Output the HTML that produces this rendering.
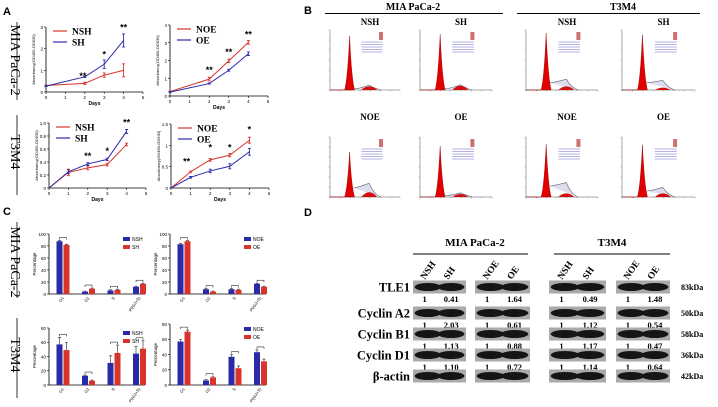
<!DOCTYPE html>
<html><head><meta charset="utf-8"><style>
body{margin:0;background:#fff}
svg{display:block}
text{font-family:"Liberation Sans",sans-serif}
.serif{font-family:"Liberation Serif",serif;font-weight:bold}
</style></head><body>
<svg id="fig" width="718" height="407" viewBox="0 0 718 407" xmlns="http://www.w3.org/2000/svg">
<g id="static">
<text x="3" y="15" font-size="11" font-weight="bold">A</text>
<text x="3" y="215" font-size="11" font-weight="bold">C</text>
<text x="304" y="14" font-size="11" font-weight="bold">B</text>
<text x="304" y="216" font-size="11" font-weight="bold">D</text>
</g>
<g id="g"></g>
</svg>
<script>
// ===== Panel A data =====
const daysA = [0,2,3,4];
const a1NSH = [0.3,0.4,0.78,1.0], a1NSHerr=[0.02,0.05,0.1,0.3];
const a1SH  = [0.27,0.7,1.28,2.38], a1SHerr=[0.02,0.03,0.2,0.3];
const a2NOE = [0.25,0.95,1.98,3.02], a2NOEerr=[0.02,0.1,0.1,0.1];
const a2OE  = [0.22,0.7,1.45,2.38], a2OEerr=[0.02,0.03,0.05,0.1];
const daysB = [0,1,2,3,4];
const a3NSH = [0,0.24,0.31,0.36,0.67], a3NSHerr=[0,0.05,0.03,0.02,0.02];
const a3SH  = [0,0.25,0.37,0.44,0.87], a3SHerr=[0,0.03,0.02,0.02,0.03];
const a4NOE = [0,0.38,0.66,0.77,1.12], a4NOEerr=[0,0.02,0.03,0.04,0.07];
const a4OE  = [0,0.25,0.4,0.51,0.85], a4OEerr=[0,0.02,0.04,0.06,0.08];
// ===== Panel C data =====
const phases = ["G1","G2","S","PI(G2+S)"];
const c1NSH=[88,4,6,12], c1SH=[82,9,7,17];
const c2NOE=[83,8,8,17], c2OE=[88,4,7,12];
const c3NSH=[57,13,31,44], c3NSHerr=[10,1,10,10], c3SH=[49,6,45,51], c3SHerr=[11,1,11,11];
const c4NOE=[57,6,37,43], c4NOEerr=[3,1,3,3], c4OE=[70,10,22,31], c4OEerr=[2,1,3,3];
// ===== Panel B data (peak heights 0-1) =====
const flowG1=[0.9,0.93,0.95,0.92,0.75,0.85,0.88,0.87];
const flowG2=[0.06,0.07,0.06,0.04,0.08,0.05,0.06,0.06];
const flowS =[0.02,0.02,0.12,0.12,0.15,0.02,0.18,0.1];
// ===== Panel D data =====
const proteins=["TLE1","Cyclin A2","Cyclin B1","Cyclin D1","β-actin"];
const kda=["83kDa","50kDa","58kDa","36kDa","42kDa"];
const ratios=[["1","0.41","1","1.64","1","0.49","1","1.48"],["1","2.03","1","0.61","1","1.12","1","0.54"],["1","1.13","1","0.88","1","1.17","1","0.47"],["1","1.10","1","0.72","1","1.14","1","0.64"]];
const lanes=["NSH","SH","NOE","OE","NSH","SH","NOE","OE"];

const NS="http://www.w3.org/2000/svg", G=document.getElementById('g');
function el(t,a,p){const e=document.createElementNS(NS,t);for(const k in a)e.setAttribute(k,a[k]);(p||G).appendChild(e);return e;}
function txt(s,a,p){const e=el('text',a,p);e.textContent=s;return e;}
const RED="#d9342b",BLUE="#2a2aa8";

function lineChart(name,c){
  const g=el('g',{});  
  const X=v=>c.x0+(c.x1-c.x0)*v/5, Y=v=>c.y0-(c.y0-c.y1)*v/c.ymax;
  const ax=el('path',{d:`M${c.x0},${c.y1}V${c.y0}H${c.x1}`,stroke:'#000',fill:'none','stroke-width':0.8},g);
   
  c.ticks.forEach(t=>{el('line',{x1:c.x0-2,x2:c.x0,y1:Y(t),y2:Y(t),stroke:'#000','stroke-width':0.6},g);
    const l=txt(String(t),{x:c.x0-3,y:Y(t)+2,'font-size':4.5,'text-anchor':'end'},g);});
  for(let d=0;d<=5;d++){el('line',{x1:X(d),x2:X(d),y1:c.y0,y2:c.y0+2,stroke:'#000','stroke-width':0.6},g);
    const l=txt(String(d),{x:X(d),y:c.y0+7,'font-size':4.5,'text-anchor':'middle'},g);}
  const xt=txt('Days',{x:(c.x0+c.x1)/2,y:c.y0+13,'font-size':5,'font-weight':'bold','text-anchor':'middle'},g);
  const yt=txt('Absorbancy(OD450-OD630)',{x:0,y:0,'font-size':4,'text-anchor':'middle',transform:`translate(${c.x0-11},${(c.y0+c.y1)/2}) rotate(-90)`},g);
  c.series.forEach(s=>{
    const p=el('polyline',{points:c.days.map((d,i)=>X(d)+','+Y(s.v[i])).join(' '),fill:'none',stroke:s.col,'stroke-width':1},g);
    
    c.days.forEach((d,i)=>{if(!s.e[i])return;const x=X(d);
      el('path',{d:`M${x},${Y(s.v[i]+s.e[i])}V${Y(s.v[i]-s.e[i])}M${x-1.5},${Y(s.v[i]+s.e[i])}h3M${x-1.5},${Y(s.v[i]-s.e[i])}h3`,stroke:s.col,'stroke-width':0.9},g);});
  });
  c.series.forEach((s,i)=>{const ly=c.y1+4+i*11;
    const l=el('line',{x1:c.x0+7,x2:c.x0+21,y1:ly,y2:ly,stroke:s.col,'stroke-width':1.2},g);
    const t=txt(s.n,{x:c.x0+26,y:ly+3.5,'font-size':9.5,class:'serif'},g);});
  c.stars.forEach(s=>{const t=txt(s[1],{x:X(s[0]),y:Y(s[2]),'font-size':9,'font-weight':'bold','text-anchor':'middle'},g);});
}
lineChart('chart-a-mia-sh',{x0:46,x1:143,y0:92,y1:27,ymax:3,ticks:[0,1,2,3],days:daysA,
  series:[{n:'NSH',col:RED,v:a1NSH,e:a1NSHerr},{n:'SH',col:BLUE,v:a1SH,e:a1SHerr}],stars:[[1.9,'**',0.6],[3,'*',1.6],[4,'**',2.85]]});
lineChart('chart-a-mia-oe',{x0:170,x1:268,y0:96,y1:25,ymax:4,ticks:[0,1,2,3,4],days:daysA,
  series:[{n:'NOE',col:RED,v:a2NOE,e:a2NOEerr},{n:'OE',col:BLUE,v:a2OE,e:a2OEerr}],stars:[[2,'**',1.3],[3,'**',2.3],[4,'**',3.3]]});
lineChart('chart-a-t3m4-sh',{x0:49,x1:146,y0:188,y1:123,ymax:1,ticks:[0.0,0.2,0.4,0.6,0.8,'1.0'],days:daysB,
  series:[{n:'NSH',col:RED,v:a3NSH,e:a3NSHerr},{n:'SH',col:BLUE,v:a3SH,e:a3SHerr}],stars:[[2,'**',0.45],[3,'*',0.52],[4,'**',0.96]]});
lineChart('chart-a-t3m4-oe',{x0:171,x1:269,y0:188,y1:124,ymax:1.5,ticks:[0,0.5,1,1.5],days:daysB,
  series:[{n:'NOE',col:RED,v:a4NOE,e:a4NOEerr},{n:'OE',col:BLUE,v:a4OE,e:a4OEerr}],stars:[[0.8,'**',0.55],[2,'*',0.88],[3,'*',0.88],[4,'*',1.3]]});

function barChart(name,c){
  const g=el('g',{});  
  const Y=v=>c.y0-(c.y0-c.y1)*v/c.ymax;
  el('path',{d:`M${c.x0},${c.y1}V${c.y0}H${c.x0+96}`,stroke:'#000',fill:'none','stroke-width':0.8},g);
  c.ticks.forEach(t=>{el('line',{x1:c.x0-2,x2:c.x0,y1:Y(t),y2:Y(t),stroke:'#000','stroke-width':0.6},g);
    const l=txt(String(t),{x:c.x0-3,y:Y(t)+1.8,'font-size':4.5,'text-anchor':'end'},g);});
  const yt=txt('Percentage',{x:0,y:0,'font-size':4.5,'text-anchor':'middle',transform:`translate(${c.x0-13},${(c.y0+c.y1)/2}) rotate(-90)`},g);
  phases.forEach((p,i)=>{const cx=c.x0+14+i*25.5;
    [[c.a,c.ae,BLUE,-6.5],[c.b,c.be,RED,0.5]].forEach(([v,e,col,off])=>{
      const r=el('rect',{x:cx+off,y:Y(v[i]),width:6,height:c.y0-Y(v[i]),fill:col},g);
      const er=e?e[i]:1;el('path',{d:`M${cx+off+3},${Y(v[i])}V${Y(v[i]+er)}m-1.5,0h3`,stroke:'#222','stroke-width':0.6},g);});
    const l=txt(p,{x:0,y:0,'font-size':4,'text-anchor':'end',transform:`translate(${cx+1},${c.y0+4}) rotate(-55)`},g);
    const top=Y(Math.max(c.a[i]+(c.ae?c.ae[i]:1),c.b[i]+(c.be?c.be[i]:1)))-3;
    el('path',{d:`M${cx-3.5},${top+2}V${top}H${cx+3.5}V${top+2}`,stroke:'#000',fill:'none','stroke-width':0.5},g);
  });
  c.leg.forEach((n,i)=>{const ly=c.y1+3+i*8;
    el('rect',{x:c.x0+74,y:ly,width:7,height:4,fill:i?RED:BLUE},g);
    const t=txt(n,{x:c.x0+83,y:ly+4,'font-size':5},g);});
}
barChart('chart-c-mia-sh',{x0:49,y0:294,y1:234,ymax:100,ticks:[0,20,40,60,80,100],a:c1NSH,b:c1SH,leg:['NSH','SH']});
barChart('chart-c-mia-oe',{x0:170,y0:294,y1:234,ymax:100,ticks:[0,20,40,60,80,100],a:c2NOE,b:c2OE,leg:['NOE','OE']});
barChart('chart-c-t3m4-sh',{x0:49,y0:385,y1:328,ymax:80,ticks:[0,20,40,60,80],a:c3NSH,ae:c3NSHerr,b:c3SH,be:c3SHerr,leg:['NSH','SH']});
barChart('chart-c-t3m4-oe',{x0:170,y0:385,y1:324,ymax:80,ticks:[0,20,40,60,80],a:c4NOE,ae:c4NOEerr,b:c4OE,be:c4OEerr,leg:['NOE','OE']});

// side labels
[['MIA PaCa-2',60,22,100],['T3M4',152,115,195],['MIA PaCa-2',262,222,298],['T3M4',355,318,398]].forEach(([s,cy,a,b])=>{
  const t=txt(s,{x:0,y:0,'font-size':14,'text-anchor':'middle',transform:`translate(11,${cy}) rotate(90)`,style:'font-family:"Liberation Serif",serif'});
  
  el('line',{x1:17,x2:17,y1:a,y2:b,stroke:'#000','stroke-width':0.8});});

// Panel B flow histograms
const fcols=[[330,400],[420,492],[526,598],[622,695]];
const ftitles=["NSH","SH","NSH","SH","NOE","OE","NOE","OE"];
for(let k=0;k<8;k++){
  const col=k%4,row=Math.floor(k/4),[x0,x1]=fcols[col],y0=row?197:90,h=60;
  const g=el('g',{});
  el('path',{d:`M${x0},${y0-h}V${y0}H${x1}`,stroke:'#555',fill:'none','stroke-width':0.5},g);
  for(let t=0;t<8;t++){el('line',{x1:x0+t*(x1-x0)/7,x2:x0+t*(x1-x0)/7,y1:y0,y2:y0+1.5,stroke:'#777','stroke-width':0.4},g);}
  for(let t=0;t<7;t++){el('line',{x1:x0-1.5,x2:x0,y1:y0-t*h/6,y2:y0-t*h/6,stroke:'#777','stroke-width':0.4},g);}
  const pk=x0+(x1-x0)*0.28,g2=x0+(x1-x0)*0.56,H=h*flowG1[k];
  el('path',{d:`M${x0},${y0}H${pk-5}Q${pk-2},${y0-H*0.2} ${pk},${y0-H}Q${pk+2},${y0-H*0.2} ${pk+5},${y0}Z`,fill:'#e00000',stroke:'#900','stroke-width':0.4},g);
  el('path',{d:`M${pk+4},${y0-h*flowS[k]}Q${(pk+g2)/2},${y0-h*flowS[k]*1.1} ${g2},${y0-h*(flowG2[k]+flowS[k])}Q${g2+5},${y0-2} ${g2+12},${y0}`,fill:'#dde',stroke:'#667','stroke-width':0.6},g);
  el('path',{d:`M${g2-8},${y0}Q${g2},${y0-h*flowG2[k]*2} ${g2+8},${y0}Z`,fill:'#d01010'},g);
  el('rect',{x:x0+(x1-x0)*0.7,y:y0-h+2,width:4,height:8,fill:'#b33',opacity:0.7},g);
  for(let r=0;r<5;r++)el('line',{x1:x0+(x1-x0)*0.45,x2:x0+(x1-x0)*0.75,y1:y0-h+12+r*2.5,y2:y0-h+12+r*2.5,stroke:'#66c','stroke-width':0.6},g);
  const t=txt(ftitles[k],{x:(x0+x1)/2+5,y:row?120:25,'font-size':9,class:'serif','text-anchor':'middle'},g);
}
[['MIA PaCa-2',413,325,503],['T3M4',623,517,700]].forEach(([s,x,a,b])=>{
  const t=txt(s,{x:x,y:10,'font-size':10,class:'serif','text-anchor':'middle'});
  el('line',{x1:a,x2:b,y1:13.5,y2:13.5,stroke:'#000','stroke-width':0.9});});

// Panel D western blot
[['MIA PaCa-2',475,413,528],['T3M4',612,554,670]].forEach(([s,x,a,b])=>{
  const t=txt(s,{x:x,y:246,'font-size':11,class:'serif','text-anchor':'middle'});
  el('line',{x1:a,x2:b,y1:254,y2:254,stroke:'#000','stroke-width':1});});
const blocks=[[413,466],[475,530],[549,606],[616,670]];
const rowY=[287,313,334,355,376];
lanes.forEach((l,i)=>{const b=blocks[Math.floor(i/2)],x=b[0]+(b[1]-b[0])*(i%2?0.72:0.28);
  const t=txt(l,{x:0,y:0,'font-size':9.5,class:'serif',transform:`translate(${x-3},${280}) rotate(-55)`});});
proteins.forEach((p,r)=>{const y=rowY[r];
  const t=txt(p,{x:410,y:y+4.5,'font-size':12.5,class:'serif','text-anchor':'end'});
  const k=txt(kda[r],{x:681,y:y+3,'font-size':8,class:'serif'});
  blocks.forEach(([a,b])=>{el('rect',{x:a,y:y-6.5,width:b-a,height:13,fill:'#aaa'});
    [0.28,0.72].forEach(f=>{const band=el('ellipse',{cx:a+(b-a)*f,cy:y,rx:(b-a)*0.25,ry:4,fill:'#151515'});});});
  if(r<4)ratios[r].forEach((v,i)=>{const b=blocks[Math.floor(i/2)],x=b[0]+(b[1]-b[0])*(i%2?0.72:0.22);
    const n=txt(v,{x:x,y:y+15,'font-size':8.5,class:'serif','text-anchor':'middle'});});
});
</script>
</body></html>
